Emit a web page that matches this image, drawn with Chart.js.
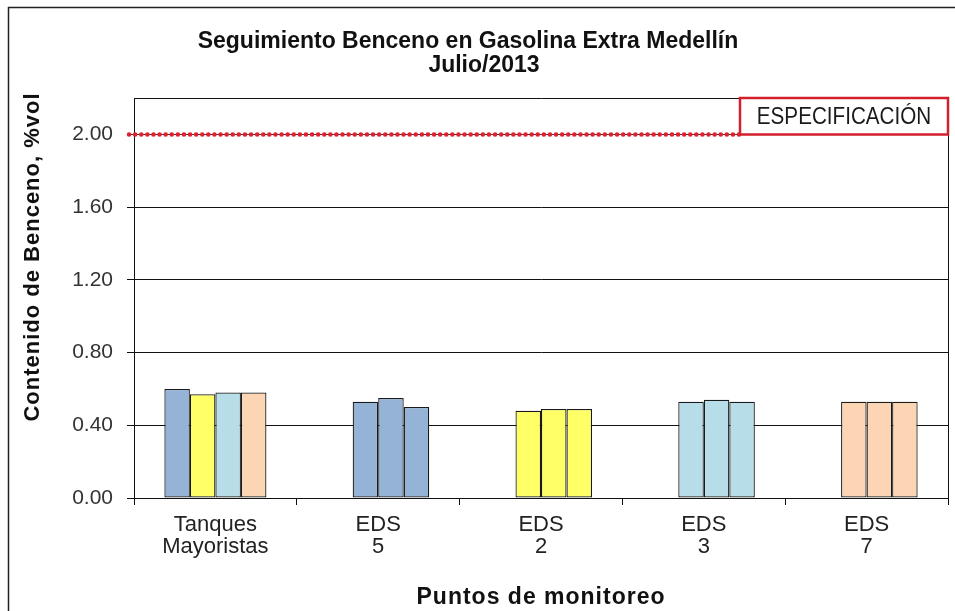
<!DOCTYPE html>
<html>
<head>
<meta charset="utf-8">
<script src="https://cdn.jsdelivr.net/npm/chart.js@4.4.0/dist/chart.umd.min.js"></script>
<style>
  html, body { margin: 0; padding: 0; background: #fff; }
  #chart { display: block; }
</style>
</head>
<body>
<canvas id="chart" width="955" height="611"></canvas>
<script>
// Seguimiento Benceno - Julio/2013

const categories = [['Tanques', 'Mayoristas'], ['EDS', '5'], ['EDS', '2'], ['EDS', '3'], ['EDS', '7']];
const muestra1 = [0.60, null, null, null, null];
const muestra2 = [0.57, 0.53, 0.48, 0.53, 0.53];
const muestra3 = [0.58, 0.55, 0.49, 0.54, 0.53];
const muestra4 = [0.58, 0.50, 0.49, 0.53, 0.53];
const yTicks = [0, 0.4, 0.8, 1.2, 1.6, 2.0];
const yMax = 2.2;
const specValue = 2.0;
const specLabel = 'ESPECIFICACIÓN';
const titleLines = ['Seguimiento Benceno en Gasolina Extra Medellín', 'Julio/2013'];
const yTitle = 'Contenido de Benceno, %vol';
const xTitle = 'Puntos de monitoreo';

// Colors
const BLUE = '#95B3D7';
const YELLOW = '#FFFF66';
const LIGHTBLUE = '#B7DEE8';
const PEACH = '#FCD5B5';
const groupColors = [BLUE, YELLOW, LIGHTBLUE, PEACH];   // first group, one color per bar
const pointColors = [null, BLUE, YELLOW, LIGHTBLUE, PEACH]; // other groups, one color per group

function colorsFor(seriesIdx) {
    return categories.map((_, i) => i === 0 ? groupColors[seriesIdx] : pointColors[i]);
}

const FONT = '"Liberation Sans", Arial, sans-serif';

// --- Plugins ---

const decorations = {
    id: 'decorations',
    beforeDraw(chart) {
        const ctx = chart.ctx;
        ctx.save();
        ctx.fillStyle = '#fff';
        ctx.fillRect(0, 0, chart.width, chart.height);
        // outer frame (only top/left visible)
        ctx.strokeStyle = '#222';
        ctx.lineWidth = 1.5;
        ctx.strokeRect(8.5, 7.5, chart.width + 50, chart.height + 50);
        ctx.restore();
    },
    afterDatasetsDraw(chart) {
        const ctx = chart.ctx;
        const area = chart.chartArea;
        const y = chart.scales.y;
        const specY = Math.round(y.getPixelForValue(specValue)) + 0.5;

        ctx.save();
        // plot frame (top / right)
        ctx.strokeStyle = '#111';
        ctx.lineWidth = 1;
        ctx.beginPath();
        ctx.moveTo(area.left, Math.round(area.top) + 0.5);
        ctx.lineTo(Math.round(area.right) + 0.5, Math.round(area.top) + 0.5);
        ctx.lineTo(Math.round(area.right) + 0.5, area.bottom);
        ctx.stroke();

        const boxW = 208;
        const boxRight = area.right;
        const boxLeft = boxRight - boxW;
        const boxTop = area.top;

        // spec line: red dots on a thin dark line
        ctx.beginPath();
        ctx.moveTo(area.left - 7, specY);
        ctx.lineTo(boxLeft, specY);
        ctx.strokeStyle = '#333';
        ctx.lineWidth = 1;
        ctx.stroke();
        ctx.beginPath();
        ctx.moveTo(area.left - 5, specY);
        ctx.lineTo(boxLeft, specY);
        ctx.setLineDash([0.1, 6]);
        ctx.lineCap = 'round';
        ctx.strokeStyle = '#E0202F';
        ctx.lineWidth = 4.5;
        ctx.stroke();
        ctx.setLineDash([]);
        ctx.lineCap = 'butt';

        // spec box
        ctx.fillStyle = '#fff';
        ctx.fillRect(boxLeft, boxTop, boxW, specY - boxTop);
        ctx.strokeStyle = '#D4202C';
        ctx.lineWidth = 2.5;
        ctx.strokeRect(boxLeft, boxTop, boxW, specY - boxTop);
        ctx.fillStyle = '#1a1a1a';
        ctx.textAlign = 'center';
        ctx.textBaseline = 'middle';
        ctx.save();
        ctx.translate(boxLeft + boxW / 2, (boxTop + specY) / 2 + 1);
        ctx.scale(0.86, 1);
        ctx.font = '24px ' + FONT;
        ctx.fillText(specLabel, 0, 0);
        ctx.restore();

        // titles
        ctx.fillStyle = '#111';
        ctx.font = 'bold 23px ' + FONT;
        ctx.fillText(titleLines[0], 468, 42);
        ctx.fillText(titleLines[1], 484, 66);

        ctx.letterSpacing = '1px';
        ctx.font = 'bold 23px ' + FONT;
        ctx.fillText(xTitle, (area.left + area.right) / 2, 598);

        ctx.font = 'bold 22px ' + FONT;
        ctx.save();
        ctx.translate(33, 257);
        ctx.rotate(-Math.PI / 2);
        ctx.fillText(yTitle, 0, 0);
        ctx.restore();

        ctx.restore();
    }
};

// --- Chart ---

function barDataset(label, data, idx) {
    return {
        label: label,
        data: data,
        backgroundColor: colorsFor(idx),
        borderColor: '#1a1a1a',
        borderWidth: 1.25,
        borderSkipped: false,
        inflateAmount: 0,
        barPercentage: 1,
        categoryPercentage: 0.627,
    };
}

const ctx = document.getElementById('chart').getContext('2d');
new Chart(ctx, {
    type: 'bar',
    data: {
        labels: categories,
        datasets: [
            barDataset('Muestra 1', muestra1, 0),
            barDataset('Muestra 2', muestra2, 1),
            barDataset('Muestra 3', muestra3, 2),
            barDataset('Muestra 4', muestra4, 3),
        ]
    },
    options: {
        responsive: false,
        animation: false,
        datasets: {
            bar: { barPercentage: 1, categoryPercentage: 0.627 }
        },
        layout: { padding: { left: 0, right: 7, top: 98, bottom: 0 } },
        plugins: {
            legend: { display: false },
            title: { display: false },
            tooltip: { enabled: false }
        },
        scales: {
            x: {
                grid: {
                    offset: true,
                    drawOnChartArea: false,
                    drawTicks: true,
                    tickLength: 7,
                    color: '#111',
                },
                border: { color: '#111', width: 1 },
                ticks: {
                    color: '#222',
                    padding: 9,
                    maxRotation: 0,
                    font: { family: FONT, size: 22, lineHeight: 1 }
                },
                afterFit: s => { s.height = 113; }
            },
            y: {
                min: 0,
                max: yMax,
                afterBuildTicks: s => { s.ticks = yTicks.map(v => ({ value: v })); },
                grid: {
                    color: '#111',
                    lineWidth: 1,
                    tickLength: 7,
                },
                border: { color: '#111', width: 1 },
                ticks: {
                    color: '#333',
                    padding: 14,
                    font: { family: FONT, size: 21 },
                    callback: v => v.toFixed(2)
                },
                afterFit: s => { s.width = 134; }
            }
        }
    },
    plugins: [decorations]
});
</script>
</body>
</html>
